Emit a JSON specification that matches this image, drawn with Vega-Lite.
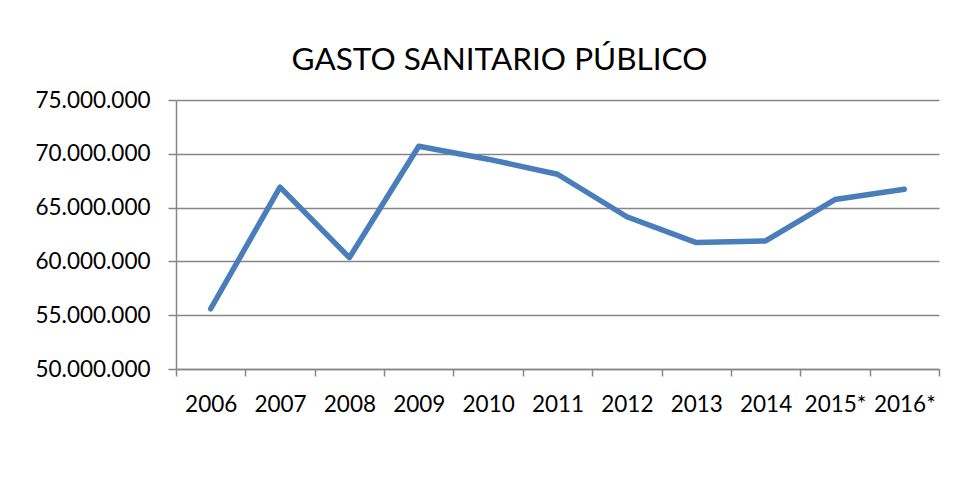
{
  "$schema": "https://vega.github.io/schema/vega-lite/v6.json",
  "width": 763,
  "height": 269,
  "autosize": {"type": "none"},
  "padding": {"left": 176, "top": 100, "right": 36, "bottom": 109},
  "background": "white",
  "config": {
    "locale": {"number": {"decimal": ",", "thousands": ".", "grouping": [3], "currency": ["", " €"]}},
    "view": {"stroke": null},
    "font": "Lato"
  },
  "title": {
    "text": "GASTO SANITARIO PÚBLICO",
    "font": "Lato",
    "fontSize": 31.5,
    "fontWeight": "normal",
    "color": "#000000",
    "anchor": "middle",
    "frame": "group",
    "dx": -58,
    "baseline": "alphabetic",
    "offset": -12
  },
  "data": {
    "values": [
      {"year": "2006", "value": 55600000},
      {"year": "2007", "value": 66900000},
      {"year": "2008", "value": 60350000},
      {"year": "2009", "value": 70700000},
      {"year": "2010", "value": 69500000},
      {"year": "2011", "value": 68100000},
      {"year": "2012", "value": 64150000},
      {"year": "2013", "value": 61750000},
      {"year": "2014", "value": 61900000},
      {"year": "2015*", "value": 65750000},
      {"year": "2016*", "value": 66700000}
    ]
  },
  "mark": {"type": "line", "color": "#4A7EBB", "strokeWidth": 5.5, "strokeCap": "round", "strokeJoin": "round"},
  "encoding": {
    "x": {
      "field": "year",
      "type": "ordinal",
      "sort": null,
      "scale": {"type": "band", "paddingInner": 0, "paddingOuter": 0},
      "axis": {
        "title": null,
        "labelAngle": 0,
        "tickBand": "extent",
        "grid": false,
        "domainColor": "#868686",
        "domainWidth": 1.5,
        "tickColor": "#868686",
        "tickWidth": 1.5,
        "tickSize": 7,
        "labelFont": "Lato",
        "labelFontSize": 22.5,
        "labelColor": "#000000",
        "labelPadding": 17
      }
    },
    "y": {
      "field": "value",
      "type": "quantitative",
      "scale": {"domain": [50000000, 75000000], "zero": false, "nice": false},
      "axis": {
        "title": null,
        "values": [50000000, 55000000, 60000000, 65000000, 70000000, 75000000],
        "format": ",d",
        "grid": true,
        "gridColor": "#868686",
        "gridWidth": 1.5,
        "domainColor": "#868686",
        "domainWidth": 1.5,
        "tickColor": "#868686",
        "tickWidth": 1.5,
        "tickSize": 8,
        "labelFont": "Lato",
        "labelFontSize": 22.5,
        "labelColor": "#000000",
        "labelPadding": 18
      }
    }
  }
}
